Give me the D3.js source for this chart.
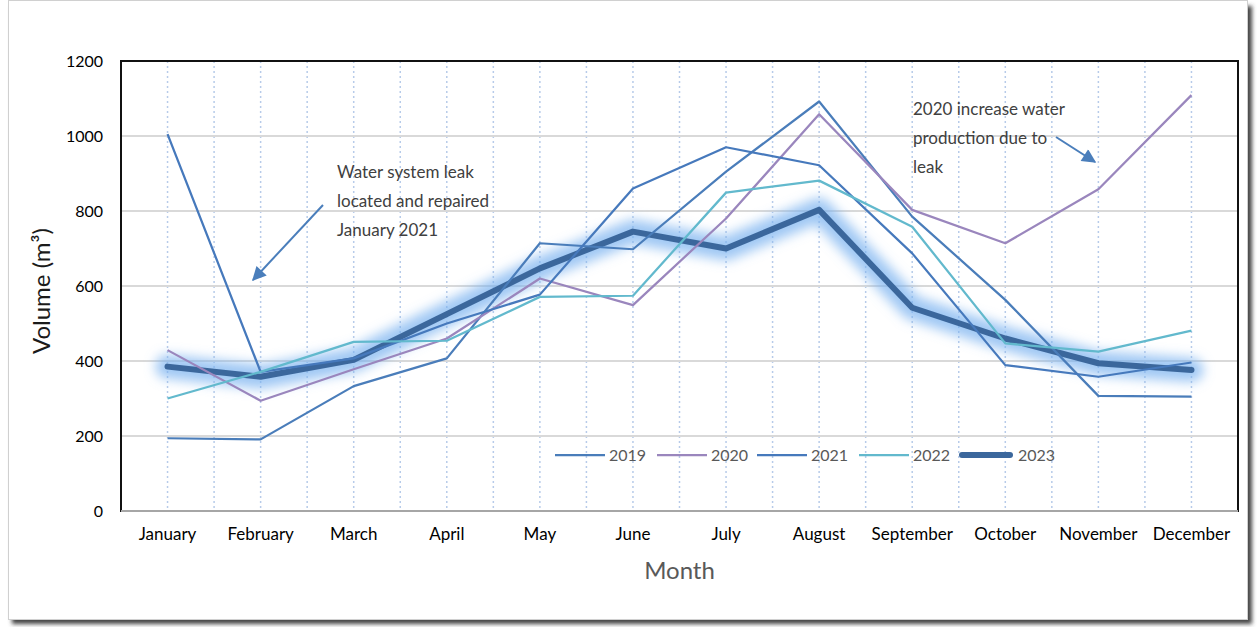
<!DOCTYPE html>
<html>
<head>
<meta charset="utf-8">
<script src="https://cdn.jsdelivr.net/npm/d3@7"></script>
<style>
  body { margin: 0; background: #fff; }
  svg { display: block; font-family: Lato, "Open Sans", sans-serif; }
</style>
</head>
<body>
<svg id="chart"></svg>
<script>
const months = ["January", "February", "March", "April", "May", "June", "July",
  "August", "September", "October", "November", "December"];
const years = ["2019", "2020", "2021", "2022", "2023"];
const v2019 = [194, 191, 333, 407, 714, 698, 905, 1092, 785, 563, 307, 305];
const v2020 = [429, 294, 378, 460, 620, 549, 780, 1058, 803, 714, 858, 1109];
const v2021 = [1005, 371, 407, 500, 577, 860, 970, 922, 687, 389, 358, 396];
const v2022 = [300, 371, 451, 454, 571, 574, 849, 881, 758, 447, 425, 481];
const v2023 = [385, 358, 403, 525, 647, 745, 700, 803, 542, 460, 394, 376];
const yTicks = [0, 200, 400, 600, 800, 1000, 1200];

const width = 1258;
const height = 627;
const plotLeft = 121, plotRight = 1238, plotTop = 61, plotBottom = 511;

const colors = new Map();
colors.set("2019", "#4a7dba");
colors.set("2020", "#9a86bd");
colors.set("2021", "#4679bc");
colors.set("2022", "#62b9cd");
colors.set("2023", "#3b679c");

const seriesValues = new Map();
seriesValues.set("2019", v2019);
seriesValues.set("2020", v2020);
seriesValues.set("2021", v2021);
seriesValues.set("2022", v2022);
seriesValues.set("2023", v2023);

const svg = d3.select("#chart").attr("width", width).attr("height", height);

const defs = svg.append("defs");
defs.append("filter").attr("id", "glow")
  .attr("x", "-10%").attr("y", "-30%").attr("width", "120%").attr("height", "160%")
  .append("feGaussianBlur").attr("stdDeviation", 6);
defs.append("filter").attr("id", "shadow")
  .append("feGaussianBlur").attr("stdDeviation", 2);

// outer frame with shadow
svg.append("rect")
  .attr("x", 12).attr("y", 6).attr("width", 1240).attr("height", 618)
  .attr("fill", "#444").attr("filter", "url(#shadow)");
svg.append("rect")
  .attr("x", 8.5).attr("y", 0.5).attr("width", 1239).attr("height", 619)
  .attr("fill", "#fff").attr("stroke", "#d0d0d0");

const x = d3.scaleBand().domain(months).range([plotLeft, plotRight]).padding(0);
const cx = (m) => x(m) + x.bandwidth() / 2;
const y = d3.scaleLinear().domain([0, 1200]).range([plotBottom, plotTop]);

// vertical dotted grid (band edges and centres)
const vLines = [];
months.forEach((m, i) => {
  vLines.push(cx(m));
  if (i > 0) vLines.push(x(m));
});
svg.append("g")
  .selectAll("line")
  .data(vLines)
  .join("line")
  .attr("x1", (d) => d).attr("x2", (d) => d)
  .attr("y1", plotTop).attr("y2", plotBottom)
  .attr("stroke", "#b7cbe9")
  .attr("stroke-width", 1.5)
  .attr("stroke-dasharray", "2,3");

// horizontal grid
svg.append("g")
  .selectAll("line")
  .data(yTicks.filter((t) => t > 0 && t < 1200))
  .join("line")
  .attr("x1", plotLeft).attr("x2", plotRight)
  .attr("y1", (d) => y(d)).attr("y2", (d) => y(d))
  .attr("stroke", "#d9d9d9")
  .attr("stroke-width", 2);

// plot frame
svg.append("rect")
  .attr("x", plotLeft).attr("y", plotTop)
  .attr("width", plotRight - plotLeft).attr("height", plotBottom - plotTop)
  .attr("fill", "none").attr("stroke", "#111").attr("stroke-width", 2);
svg.append("line")
  .attr("x1", plotLeft).attr("x2", plotRight)
  .attr("y1", plotBottom).attr("y2", plotBottom)
  .attr("stroke", "#a6a6a6").attr("stroke-width", 2);

// y tick labels
const yAxis = svg.append("g")
  .attr("transform", `translate(${plotLeft},0)`)
  .call(d3.axisLeft(y).tickValues(yTicks).tickFormat(d3.format("d")).tickSize(0).tickPadding(18));
yAxis.select(".domain").remove();
yAxis.selectAll("text")
  .attr("font-size", 16).attr("font-family", "Lato, sans-serif").attr("fill", "#000");

// x tick labels
const xAxis = svg.append("g")
  .attr("transform", `translate(0,${plotBottom})`)
  .call(d3.axisBottom(x).tickSize(0).tickPadding(17));
xAxis.select(".domain").remove();
xAxis.selectAll("text")
  .attr("font-size", 17).attr("font-family", "Lato, sans-serif").attr("fill", "#000");

// axis titles
svg.append("text")
  .attr("x", (plotLeft + plotRight) / 2).attr("y", 579)
  .attr("text-anchor", "middle")
  .attr("font-size", 24).attr("fill", "#595959")
  .text("Month");
svg.append("text")
  .attr("transform", "translate(50,291) rotate(-90)")
  .attr("text-anchor", "middle")
  .attr("font-size", 24).attr("fill", "#1a1a1a")
  .text("Volume (m³)");

const line = d3.line()
  .x((d, i) => cx(months[i]))
  .y((d) => y(d));

// 2023 with glow
const lines = svg.append("g");
lines.append("path")
  .attr("d", line(v2023))
  .attr("fill", "none")
  .attr("stroke", "#78b0f0")
  .attr("stroke-opacity", 0.7)
  .attr("stroke-width", 24)
  .attr("stroke-linejoin", "round")
  .attr("stroke-linecap", "round")
  .attr("filter", "url(#glow)");
lines.append("path")
  .attr("d", line(v2023))
  .attr("fill", "none")
  .attr("stroke", colors.get("2023"))
  .attr("stroke-width", 6)
  .attr("stroke-linejoin", "round")
  .attr("stroke-linecap", "round");

lines.selectAll("path.thin")
  .data(years.filter((yr) => yr !== "2023"))
  .join("path")
  .classed("thin", true)
  .attr("d", (yr) => line(seriesValues.get(yr)))
  .attr("fill", "none")
  .attr("stroke", (yr) => colors.get(yr))
  .attr("stroke-width", 2.25)
  .attr("stroke-linejoin", "round");

// legend
const legend = svg.append("g").attr("transform", "translate(555,455)");
const legendStep = [0, 102, 202, 304, 404];
legend.selectAll("line")
  .data(years)
  .join("line")
  .attr("x1", (d, i) => legendStep[i] + (d === "2023" ? 3 : 0))
  .attr("x2", (d, i) => legendStep[i] + (d === "2023" ? 51 : 50))
  .attr("y1", 0).attr("y2", 0)
  .attr("stroke", (d) => colors.get(d))
  .attr("stroke-width", (d) => (d === "2023" ? 6 : 2.25))
  .attr("stroke-linecap", (d) => (d === "2023" ? "round" : "butt"));
legend.selectAll("text")
  .data(years)
  .join("text")
  .attr("x", (d, i) => legendStep[i] + (d === "2023" ? 59 : 54))
  .attr("y", 0)
  .attr("dy", "0.35em")
  .attr("font-size", 16)
  .attr("fill", "#595959")
  .text((d) => d);

// annotations
const noteColor = "#404040";
const arrowColor = "#4a7ebb";
defs.append("marker")
  .attr("id", "arrow")
  .attr("viewBox", "0 0 10 10")
  .attr("refX", 9).attr("refY", 5)
  .attr("markerWidth", 8).attr("markerHeight", 7)
  .attr("markerUnits", "strokeWidth")
  .attr("orient", "auto")
  .append("path")
  .attr("d", "M0,0L10,5L0,10z")
  .attr("fill", arrowColor);

const note1 = ["Water system leak", "located and repaired", "January 2021"];
svg.append("g").selectAll("text")
  .data(note1)
  .join("text")
  .attr("x", 337).attr("y", (d, i) => 178 + i * 29)
  .attr("font-size", 17).attr("fill", noteColor)
  .text((d) => d);
svg.append("line")
  .attr("x1", 323).attr("y1", 205).attr("x2", 253).attr("y2", 280)
  .attr("stroke", arrowColor).attr("stroke-width", 2)
  .attr("marker-end", "url(#arrow)");

const note2 = ["2020 increase water", "production due to", "leak"];
svg.append("g").selectAll("text")
  .data(note2)
  .join("text")
  .attr("x", 913).attr("y", (d, i) => 115 + i * 29)
  .attr("font-size", 17).attr("fill", noteColor)
  .text((d) => d);
svg.append("line")
  .attr("x1", 1056).attr("y1", 137).attr("x2", 1095).attr("y2", 162)
  .attr("stroke", arrowColor).attr("stroke-width", 2)
  .attr("marker-end", "url(#arrow)");
</script>
</body>
</html>
